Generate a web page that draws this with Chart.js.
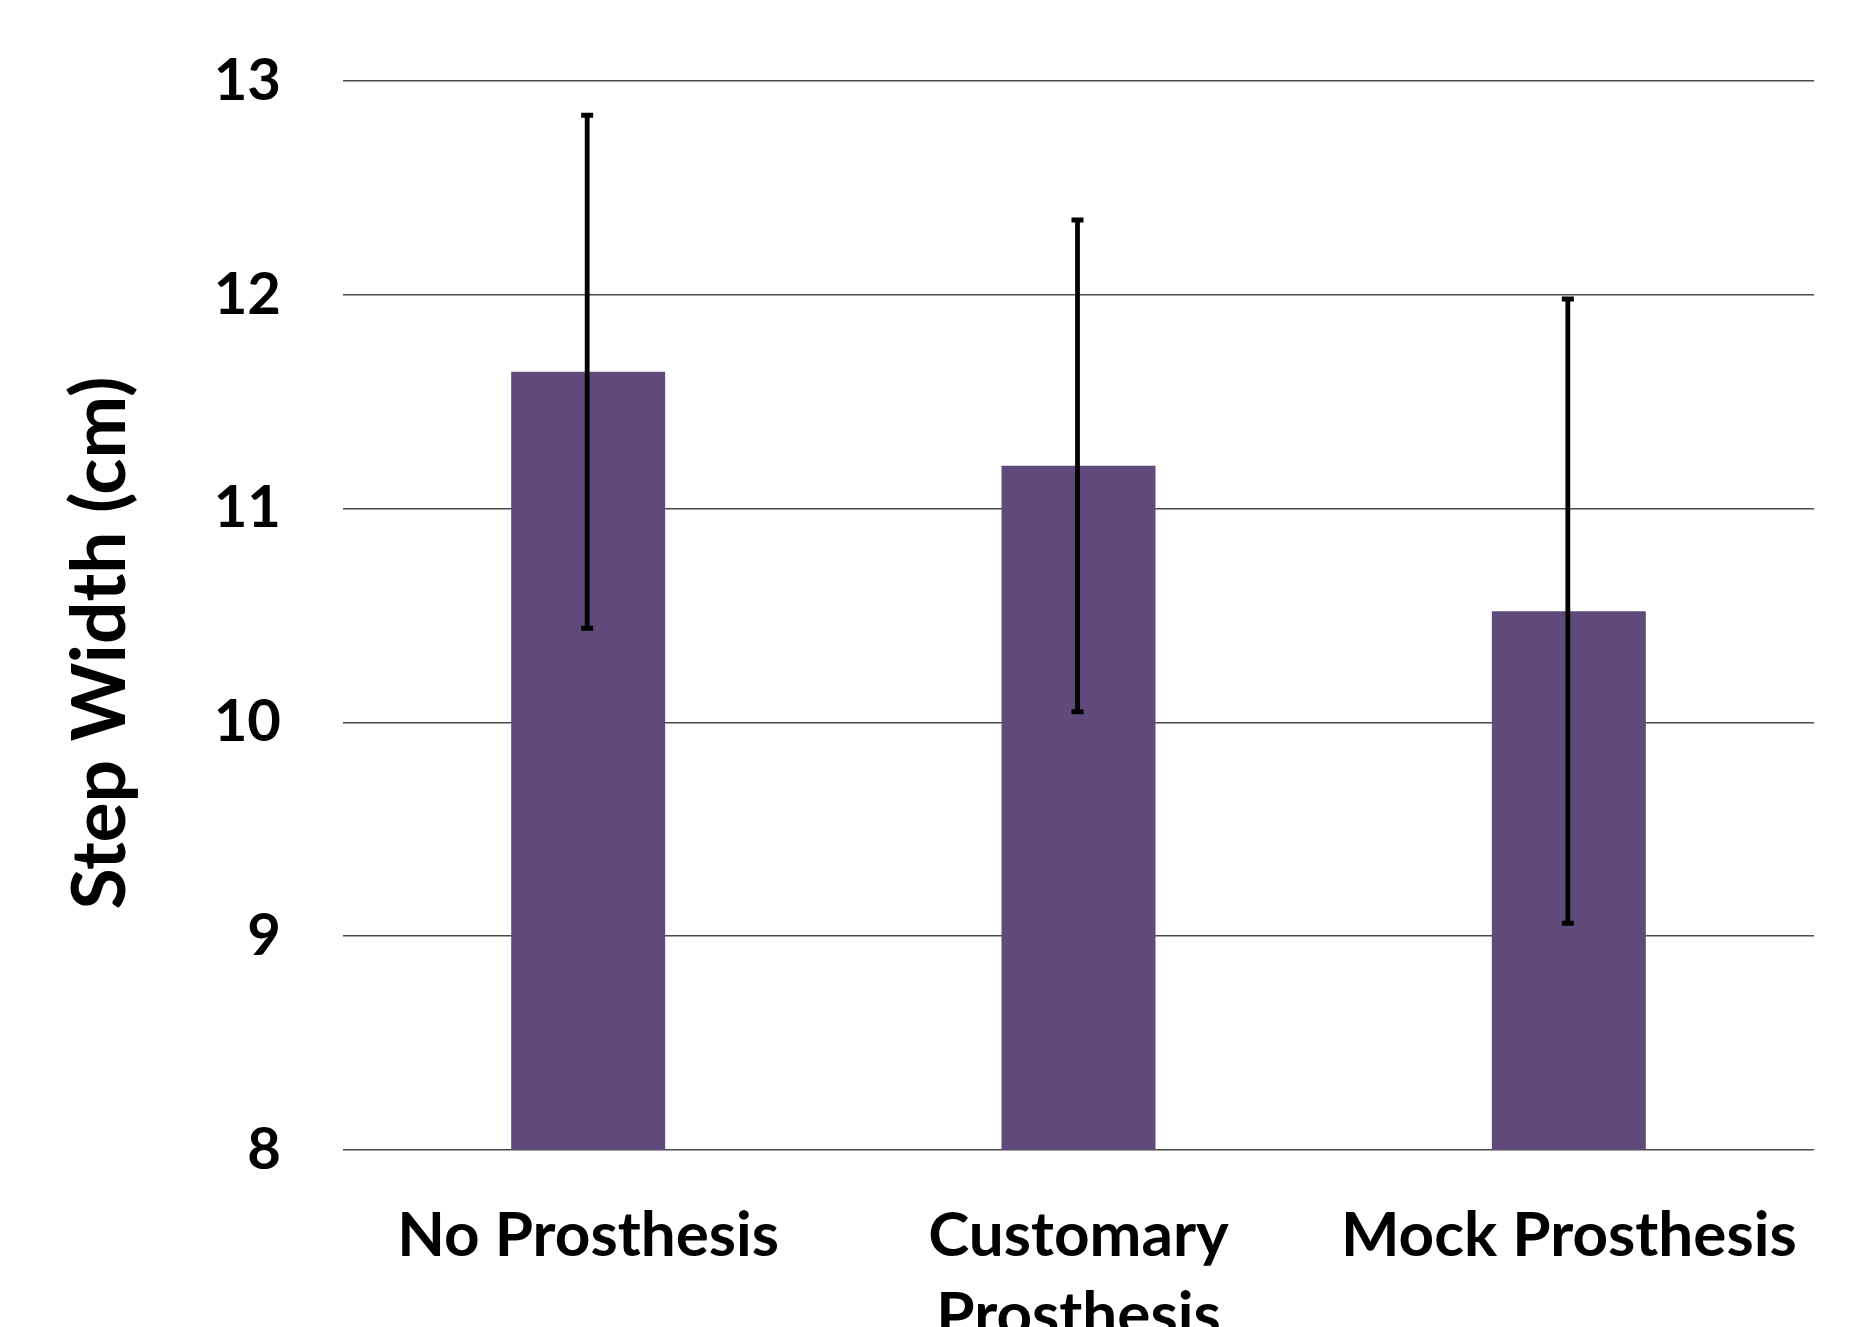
<!DOCTYPE html>
<html>
<head>
<meta charset="utf-8">
<title>Step Width</title>
<script src="https://cdn.jsdelivr.net/npm/chart.js@4/dist/chart.umd.min.js"></script>
<style>
  html, body { margin: 0; padding: 0; background: #ffffff; overflow: hidden; }
  canvas { display: block; }
</style>
</head>
<body>
<canvas id="chart" width="1854" height="1400"></canvas>
<script>
// Conditions on the x axis (multi-line labels are arrays)
const categories = [['No Prosthesis'], ['Customary', 'Prosthesis'], ['Mock Prosthesis']];
// Mean step width (cm)
const meanWidth = [11.64, 11.20, 10.52];
// Standard deviation (cm), drawn as symmetric error bars
const sdWidth = [1.20, 1.15, 1.46];
// Y axis range and tick step
const yMin = 8;
const yMax = 13;
const yStep = 1;
const yTitle = 'Step Width (cm)';

const FONT = 'Lato, "Open Sans", "Liberation Sans", sans-serif';

// Symmetric error bars with small caps, positioned through the y scale
const errorBars = {
  id: 'errorBars',
  afterDatasetsDraw(chart) {
    const ctx = chart.ctx;
    const yScale = chart.scales.y;
    const meta = chart.getDatasetMeta(0);
    ctx.save();
    ctx.strokeStyle = '#000000';
    meta.data.forEach((bar, i) => {
      const x = bar.x - 1;
      const yTop = yScale.getPixelForValue(meanWidth[i] + sdWidth[i]);
      const yBot = yScale.getPixelForValue(meanWidth[i] - sdWidth[i]);
      ctx.lineWidth = 4.8;
      ctx.beginPath();
      ctx.moveTo(x, yTop);
      ctx.lineTo(x, yBot);
      ctx.stroke();
      ctx.lineWidth = 5;
      ctx.beginPath();
      ctx.moveTo(x - 6, yTop);
      ctx.lineTo(x + 6, yTop);
      ctx.moveTo(x - 6, yBot);
      ctx.lineTo(x + 6, yBot);
      ctx.stroke();
    });
    ctx.restore();
  }
};

// Rotated y axis title
const axisTitle = {
  id: 'axisTitle',
  afterDraw(chart) {
    const ctx = chart.ctx;
    ctx.save();
    ctx.translate(101, 643);
    ctx.rotate(-Math.PI / 2);
    ctx.font = 'bold 75px ' + FONT;
    ctx.fillStyle = '#000000';
    ctx.textAlign = 'center';
    ctx.textBaseline = 'middle';
    ctx.fillText(yTitle, 0, 0);
    ctx.restore();
  }
};

new Chart(document.getElementById('chart'), {
  type: 'bar',
  data: {
    labels: categories,
    datasets: [{
      data: meanWidth,
      backgroundColor: '#604A7B',
      borderWidth: 0,
      barPercentage: 0.314,
      categoryPercentage: 1.0
    }]
  },
  options: {
    responsive: false,
    animation: false,
    layout: { padding: { top: 81, right: 40, bottom: 0, left: 0 } },
    plugins: {
      legend: { display: false },
      tooltip: { enabled: false }
    },
    scales: {
      x: {
        grid: { display: false, drawTicks: false },
        border: { display: false },
        ticks: {
          color: '#000000',
          font: { family: FONT, size: 62, weight: 'bold', lineHeight: 1.29 },
          padding: 46,
          maxRotation: 0,
          autoSkip: false
        },
        afterFit(scale) {
          scale.height = 1400 - 1150;
          scale.paddingLeft = 0;
          scale.paddingRight = 0;
        }
      },
      y: {
        min: yMin,
        max: yMax,
        grid: { color: '#4a4a4a', lineWidth: 1.6, drawTicks: false },
        border: { display: false },
        ticks: {
          stepSize: yStep,
          color: '#000000',
          font: { family: FONT, size: 58, weight: 'bold' },
          padding: 62
        },
        afterFit(scale) {
          scale.width = 343;
          scale.paddingTop = 0;
          scale.paddingBottom = 0;
        }
      }
    }
  },
  plugins: [errorBars, axisTitle]
});
</script>
</body>
</html>
